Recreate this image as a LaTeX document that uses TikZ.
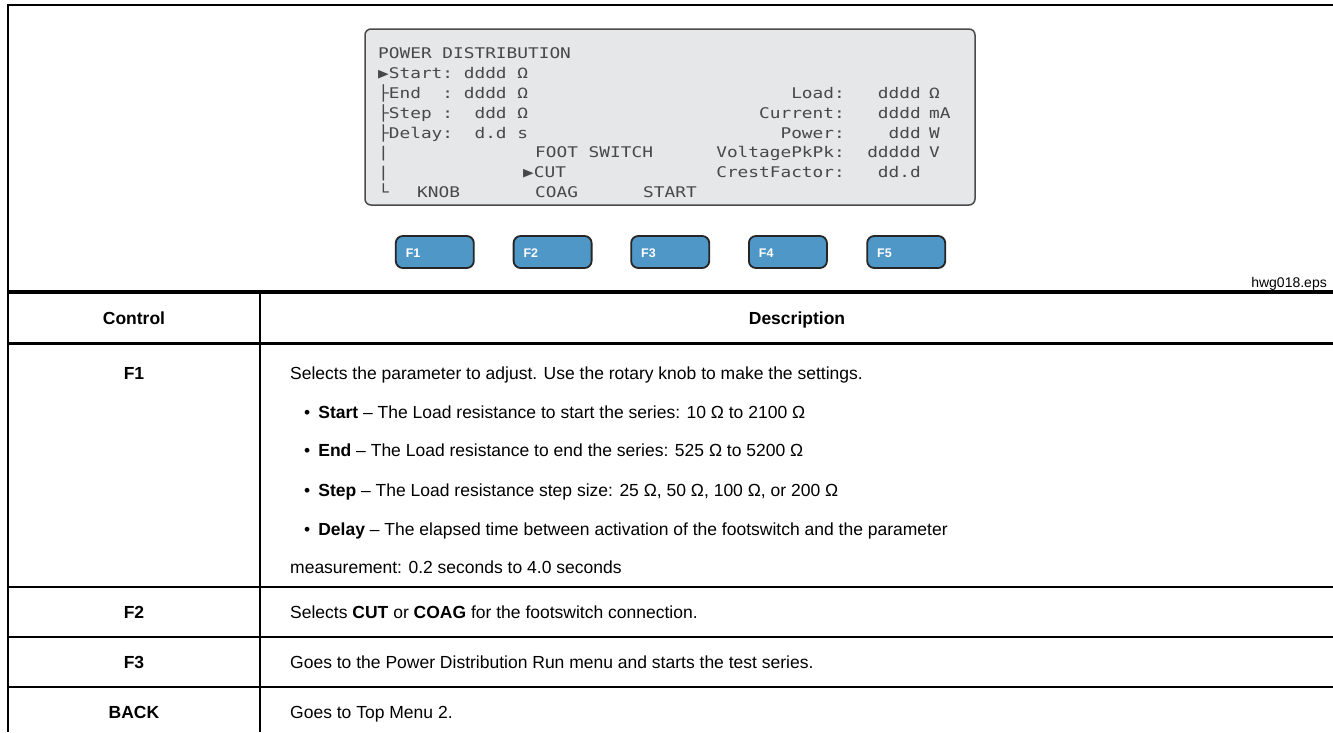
\documentclass[tikz,border=0pt]{standalone}
\usepackage{fontspec}
\setmainfont{Liberation Sans}
\newfontfamily\lcdfont{DejaVu Sans Mono}[FakeStretch=1.21]

\begin{document}
\begin{tikzpicture}[x=1pt,y=-1pt,
  rule/.style={line width=2pt},
  txtcell/.style={anchor=west,inner sep=0,text height=12.5pt,text depth=0pt,font=\fontsize{17.5}{21}\selectfont},
  hdr/.style={txtcell,anchor=center,font=\fontsize{17.5}{21}\selectfont\bfseries},
  lcdtxt/.style={anchor=west,inner sep=0,text height=10.7pt,text depth=0pt,text=lcdink,font=\lcdfont\fontsize{14.7}{17}\selectfont},
  fkey/.style={draw=keyedge,fill=keyblue,line width=1.8pt,rounded corners=7pt,minimum width=78pt,minimum height=32pt,inner sep=0}]
\definecolor{lcdgray}{HTML}{E6E7E8}
\definecolor{lcdedge}{HTML}{4A4A4A}
\definecolor{lcdink}{HTML}{484848}
\definecolor{keyblue}{HTML}{4F97C7}
\definecolor{keyedge}{HTML}{262626}
\useasboundingbox (0,0) rectangle (1333,732);
\fill[white] (0,0) rectangle (1333,732);
\draw[rule] (7.5,732) -- (7.5,4.5) -- (1333,4.5);
\draw[line width=4pt] (6.5,292) -- (1333,292);
\draw[line width=3pt] (6.5,343) -- (1333,343);
\foreach \y in {587,637,687}
  {\draw[rule] (6.5,\y) -- (1333,\y);}
\draw[rule] (260,292) -- (260,732);
\node[draw=lcdedge,fill=lcdgray,line width=1.5pt,rounded corners=6pt,minimum width=610pt,minimum height=176pt,inner sep=0] (lcd) at (670,117) {};
\node[lcdtxt] (title) at (378,53) {POWER DISTRIBUTION};
\node[lcdtxt] (pstart) at (378,73) {▶Start:~dddd~Ω};
\node[lcdtxt] (pend) at (378,93) {├End~~:~dddd~Ω};
\node[lcdtxt] (pstep) at (378,113) {├Step~:~~ddd~Ω};
\node[lcdtxt] (pdelay) at (378,133) {├Delay:~~d.d~s};
\node[lcdtxt] (bar1) at (378,152) {|};
\node[lcdtxt] (foot) at (535,152) {FOOT SWITCH};
\node[lcdtxt] (bar2) at (378,172) {|};
\node[lcdtxt] (cut) at (523,172) {▶CUT};
\node[lcdtxt] (corner) at (378,192) {└};
\node[lcdtxt] (knob) at (417,192) {KNOB};
\node[lcdtxt] (coag) at (535,192) {COAG};
\node[lcdtxt] (go) at (643,192) {START};
\foreach \nm/\lab/\val/\unit/\y in {load/Load:/dddd/Ω/93,cur/Current:/dddd/mA/113,pow/Power:/ddd/W/133,vpp/VoltagePkPk:/ddddd/V/152,crest/CrestFactor:/dd.d//172}
  {\node[lcdtxt,anchor=east] (\nm-lab) at (845,\y) {\lab};
   \node[lcdtxt,anchor=east] (\nm-val) at (921,\y) {\val};
   \node[lcdtxt] (\nm-unit) at (929,\y) {\unit};}
\foreach \i/\x in {1/395.6,2/513.4,3/631,4/748.7,5/867}
  {\node[fkey] (key\i) at (\x+39.2,252) {};
   \node[anchor=west,inner sep=0,text=white,font=\fontsize{12.5}{14}\selectfont\bfseries] (keylbl\i) at (\x+10,253) {F\i};}
\node[anchor=east,inner sep=0,text height=10pt,text depth=0pt,font=\fontsize{14}{16}\selectfont] (fig) at (1327,282) {hwg018.eps};
\node[hdr] (ctl) at (134,318) {Control};
\node[hdr] (desc) at (797,318) {Description};
\node[hdr] (kf1) at (134,373) {F1};
\node[txtcell] (f1a) at (290,373) {Selects the parameter to adjust. Use the rotary knob to make the settings.};
\node[txtcell] (f1b) at (304,412) {•\hspace{8pt}\textbf{Start} -- The Load resistance to start the series: 10 Ω to 2100 Ω};
\node[txtcell] (f1c) at (304,450) {•\hspace{8pt}\textbf{End} -- The Load resistance to end the series: 525 Ω to 5200 Ω};
\node[txtcell] (f1d) at (304,490) {•\hspace{8pt}\textbf{Step} -- The Load resistance step size: 25 Ω, 50 Ω, 100 Ω, or 200 Ω};
\node[txtcell] (f1e) at (304,529) {•\hspace{8pt}\textbf{Delay} -- The elapsed time between activation of the footswitch and the parameter};
\node[txtcell] (f1f) at (290,567) {measurement: 0.2 seconds to 4.0 seconds};
\node[hdr] (kf2) at (134,612) {F2};
\node[txtcell] (f2a) at (290,612) {Selects \textbf{CUT} or \textbf{COAG} for the footswitch connection.};
\node[hdr] (kf3) at (134,662) {F3};
\node[txtcell] (f3a) at (290,662) {Goes to the Power Distribution Run menu and starts the test series.};
\node[hdr] (kback) at (134,712) {BACK};
\node[txtcell] (backa) at (290,712) {Goes to Top Menu 2.};
\end{tikzpicture}
\end{document}
